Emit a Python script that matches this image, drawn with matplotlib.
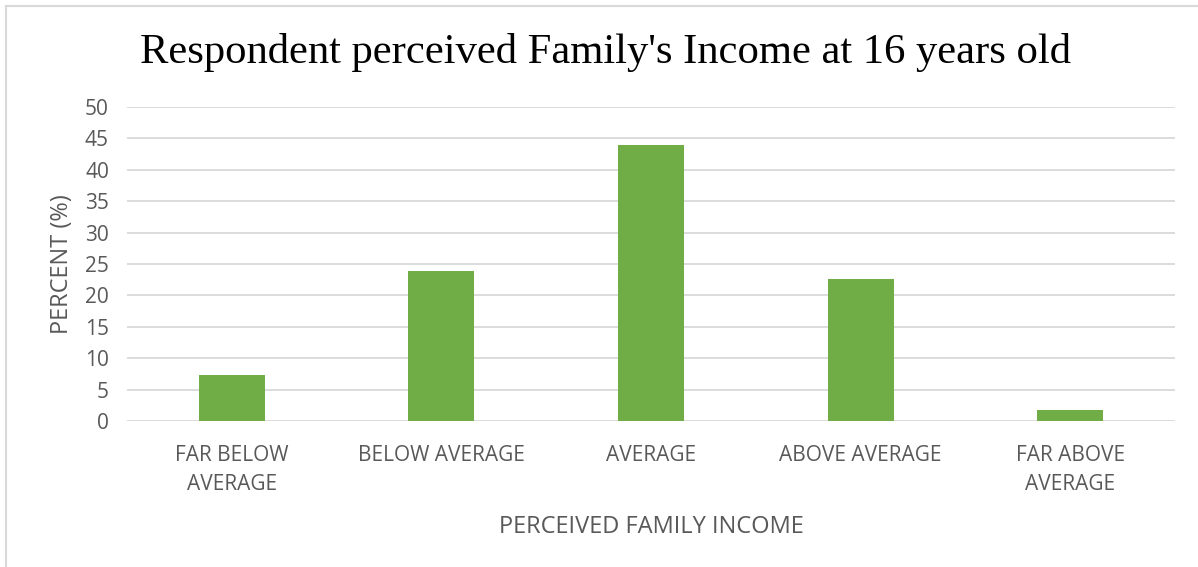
import matplotlib.pyplot as plt
from matplotlib.lines import Line2D

categories = ["FAR BELOW\nAVERAGE", "BELOW AVERAGE", "AVERAGE", "ABOVE AVERAGE", "FAR ABOVE\nAVERAGE"]
percent = [7.4, 23.9, 43.9, 22.6, 1.8]
y_ticks = [0, 5, 10, 15, 20, 25, 30, 35, 40, 45, 50]

TEXT = "#595959"
GRID = "#d9d9d9"
BAR = "#70ad47"
SANS = ["Open Sans", "DejaVu Sans"]

fig = plt.figure(figsize=(11.98, 5.67), dpi=100)
W, H = 1198, 567
left, right, top, bottom = 127, 1175, 107, 421
ax = fig.add_axes([left / W, 1 - bottom / H, (right - left) / W, (bottom - top) / H])

x = range(len(categories))
ax.bar(x, percent, width=0.315, color=BAR, zorder=3)
ax.set_xlim(-0.5, len(categories) - 0.5)
ax.set_ylim(0, 50)
ax.set_yticks(y_ticks)
ax.yaxis.grid(True, color=GRID, linewidth=1.3, zorder=0)
ax.set_axisbelow(True)
for s in ax.spines.values():
    s.set_visible(False)
ax.tick_params(length=0)
ax.tick_params(axis="y", pad=13)
ax.tick_params(axis="x", pad=17)
ax.set_xticks(list(x))
ax.set_xticklabels(categories, fontsize=15, color=TEXT, family=SANS, linespacing=1.55, va="top")
for lab in ax.get_yticklabels():
    lab.set_fontsize(15)
    lab.set_color(TEXT)
    lab.set_family(SANS)

ax.set_ylabel("PERCENT (%)", fontsize=17, color=TEXT, family=SANS, labelpad=8)
ax.set_xlabel("PERCEIVED FAMILY INCOME", fontsize=17, color=TEXT, family=SANS, labelpad=14)

fig.text(606 / W, 1 - 52 / H, "Respondent perceived Family's Income at 16 years old",
         ha="center", va="center", fontsize=30.7, family=["Liberation Serif", "DejaVu Serif"], color="black")

# chart frame (left and top edges visible)
fig.add_artist(Line2D([5.5 / W, 5.5 / W], [0, 1 - 6 / H], color="#d9d9d9", linewidth=1.5))
fig.add_artist(Line2D([5.5 / W, 1], [1 - 6 / H, 1 - 6 / H], color="#d9d9d9", linewidth=1.5))

fig.savefig("out.png", dpi=100)
